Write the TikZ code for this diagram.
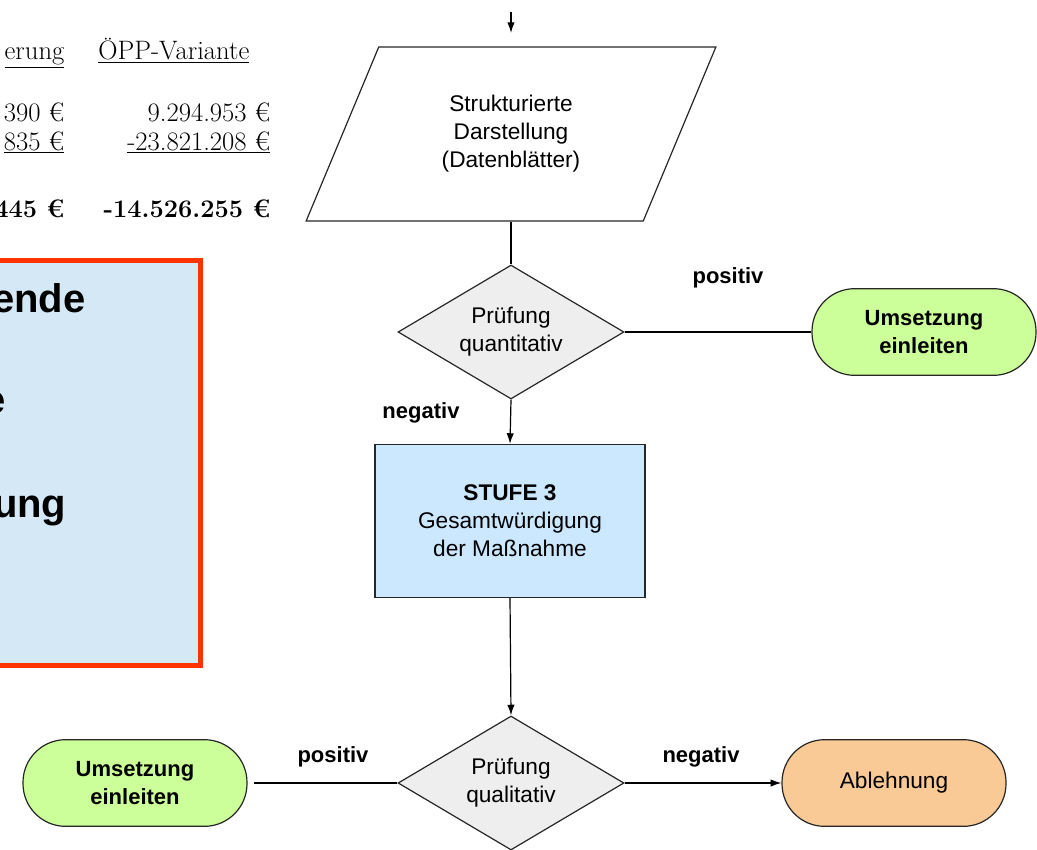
\documentclass[tikz,border=0pt]{standalone}
\usepackage{fontspec}
\setsansfont{Liberation Sans}
\usepackage{tikz}
\usepackage{xcolor}
\usetikzlibrary{shapes.geometric,arrows.meta}

\definecolor{kastenblau}{RGB}{213,232,246}
\definecolor{kastenrot}{RGB}{255,51,0}
\definecolor{stufeblau}{RGB}{204,232,255}
\definecolor{pruefgrau}{RGB}{238,238,238}
\definecolor{umsetzgruen}{RGB}{204,255,153}
\definecolor{ablehnorange}{RGB}{250,202,150}

\begin{document}
\begin{tikzpicture}[x=0.75pt,y=0.75pt,yscale=-1,xscale=1,line width=0.9pt,
    fluss/.style={font=\sffamily\fontsize{17}{21}\selectfont,align=center,inner sep=0.75pt},
    marke/.style={font=\sffamily\bfseries\fontsize{16.5}{21}\selectfont,inner sep=0.75pt},
    tabelle/.style={font=\fontsize{20}{24}\selectfont,inner sep=0.75pt,anchor=base east},
    pruefung/.style={fluss,diamond,aspect=2,draw=black!85,fill=pruefgrau,minimum width=169.5pt,minimum height=100.5pt,inner sep=0pt},
    ende/.style={fluss,font=\sffamily\bfseries\fontsize{16.5}{21}\selectfont,draw=black!85,rounded corners=32pt,minimum width=168pt,minimum height=65pt},
    pfeil/.style={-{Latex[length=8pt,width=5.5pt]}}]
    \useasboundingbox (0,0) rectangle (1037,849);
    \clip (0,0) rectangle (1037,849);

    %Shape: Rectangle [links, abgeschnitten]
    \draw[kastenrot,line width=3.75pt,fill=kastenblau] (-20,260) rectangle (200,665);
    % Text Node
    \node[font=\sffamily\bfseries\fontsize{30}{36}\selectfont,anchor=base east,inner sep=0pt] (wort1) at (86,312) {ende};
    % Text Node
    \node[font=\sffamily\bfseries\fontsize{30}{36}\selectfont,anchor=base east,inner sep=0pt] (wort2) at (6,413) {e};
    % Text Node
    \node[font=\sffamily\bfseries\fontsize{30}{36}\selectfont,anchor=base east,inner sep=0pt] (wort3) at (67,517) {ung};

    % Tabelle oben links
    \node[tabelle] (kopf1) at (66,60) {\underline{erung}};
    \node[tabelle] (kopf2) at (251,60) {\underline{ÖPP-Variante}};
    \node[tabelle] (zeile1a) at (66,121) {390 €};
    \node[tabelle] (zeile1b) at (272,121) {9.294.953 €};
    \node[tabelle] (zeile2a) at (66,150) {\underline{835 €}};
    \node[tabelle] (zeile2b) at (272,150) {\underline{-23.821.208 €}};
    \node[tabelle,font=\bfseries\fontsize{19}{22}\selectfont] (zeile3a) at (66,217) {445 €};
    \node[tabelle,font=\bfseries\fontsize{19}{22}\selectfont] (zeile3b) at (272,217) {-14.526.255 €};

    %Shape: Parallelogram
    \node[fluss,trapezium,trapezium left angle=64,trapezium right angle=116,trapezium stretches=true,
          draw=black!85,minimum width=307.5pt,minimum height=130.5pt] (daten) at (511,134)
          {Strukturierte\\Darstellung\\(Datenblätter)};
    \coordinate (ein) at (511,12);
    \coordinate (einende) at (511,33);

    %Shape: Diamond
    \node[pruefung] (quant) at (511,332) {Prüfung\\quantitativ};
    %Shape: Rounded Rect
    \node[ende,fill=umsetzgruen] (umsetzung1) at (924,332) {Umsetzung\\einleiten};
    %Shape: Rectangle
    \node[fluss,draw=black!85,fill=stufeblau,minimum width=202.5pt,minimum height=114.75pt] (stufe) at (510,521)
          {\textbf{STUFE 3}\\Gesamtwürdigung\\der Maßnahme};
    %Shape: Diamond
    \node[pruefung] (qual) at (511,783) {Prüfung\\qualitativ};
    %Shape: Rounded Rect
    \node[ende,fill=umsetzgruen] (umsetzung2) at (135,783) {Umsetzung\\einleiten};
    %Shape: Rounded Rect
    \node[ende,fill=ablehnorange,font=\sffamily\fontsize{17}{21}\selectfont] (ablehnung) at (894,783) {Ablehnung};

    % Text Node
    \node[marke] (pos1) at (728,278) {positiv};
    \node[marke] (neg1) at (421,413) {negativ};
    \node[marke] (pos2) at (333,757) {positiv};
    \node[marke] (neg2) at (701,757) {negativ};

    %Straight Lines
    \draw[pfeil] (ein) -- (einende);
    \draw (daten.center |- daten.south) -- (quant.north);
    \draw (quant.east) -- (umsetzung1.west);
    \draw[pfeil] (quant.south) -- (stufe.north);
    \draw[pfeil] (stufe.south) -- (qual.north);
    \draw[shorten <=5pt] (umsetzung2.east) -- (qual.west);
    \draw[pfeil] (qual.east) -- (ablehnung.west);

\end{tikzpicture}
\end{document}
